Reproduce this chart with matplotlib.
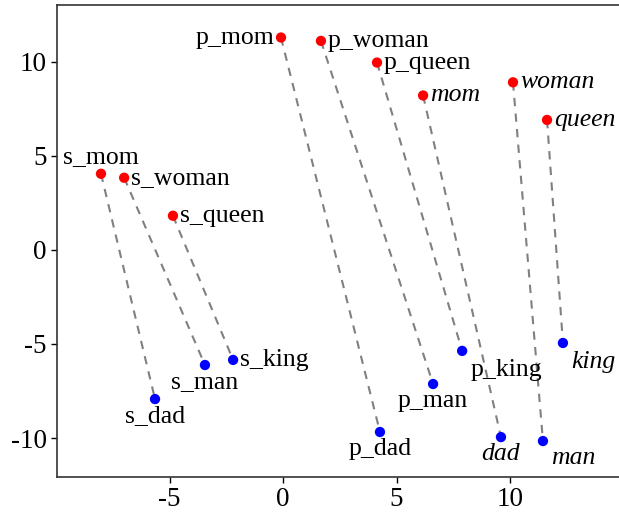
import matplotlib
matplotlib.use("Agg")
import matplotlib.pyplot as plt

# female-side words (red) and their male counterparts (blue)
female_words = ["p_mom", "p_woman", "p_queen", "mom", "woman", "queen", "s_mom", "s_woman", "s_queen"]
female_x = [-0.09, 1.67, 4.14, 6.17, 10.13, 11.63, -8.02, -7.0, -4.85]
female_y = [11.28, 11.1, 9.95, 8.2, 8.9, 6.9, 4.04, 3.83, 1.81]

male_words = ["p_dad", "p_man", "p_king", "dad", "man", "king", "s_dad", "s_man", "s_king"]
male_x = [4.27, 6.61, 7.89, 9.6, 11.45, 12.33, -5.64, -3.44, -2.2]
male_y = [-9.68, -7.13, -5.37, -9.95, -10.16, -4.95, -7.93, -6.12, -5.85]

plain_words = {"mom", "woman", "queen", "dad", "man", "king"}

# label placement (offset in points, ha, va)
label_pos = {
    "p_mom": ((-5, 0), "right", "center"),
    "p_woman": ((5, 0), "left", "center"),
    "p_queen": ((5, 0), "left", "center"),
    "mom": ((5, 0), "left", "center"),
    "woman": ((5, 0), "left", "center"),
    "queen": ((5, 0), "left", "center"),
    "s_mom": ((0, 4), "center", "bottom"),
    "s_woman": ((5, 0), "left", "center"),
    "s_queen": ((5, 0), "left", "center"),
    "p_dad": ((0, -4), "center", "top"),
    "p_man": ((0, -4), "center", "top"),
    "p_king": ((6, -6), "left", "top"),
    "dad": ((0, -4), "center", "top"),
    "man": ((6, -4), "left", "top"),
    "king": ((6, -6), "left", "top"),
    "s_dad": ((0, -4), "center", "top"),
    "s_man": ((0, -4), "center", "top"),
    "s_king": ((5, 0), "left", "center"),
}

plt.rcParams["font.family"] = ["Liberation Serif", "DejaVu Serif"]

fig = plt.figure(figsize=(6.19, 5.14), dpi=100)
ax = fig.add_axes([0.092, 0.072, 0.908, 0.918])

for fx, fy, mx, my in zip(female_x, female_y, male_x, male_y):
    ax.plot([fx, mx], [fy, my], linestyle=(0, (4, 3.5)), color="#808080", lw=1.5, zorder=1)

ax.scatter(female_x, female_y, s=55, color="#ff0000", zorder=3, edgecolors="none")
ax.scatter(male_x, male_y, s=55, color="#0000ff", zorder=3, edgecolors="none")

for words, xs, ys in ((female_words, female_x, female_y), (male_words, male_x, male_y)):
    for w, x, y in zip(words, xs, ys):
        off, ha, va = label_pos[w]
        ax.annotate(w, (x, y), xytext=off, textcoords="offset points", ha=ha, va=va,
                    fontsize=18.5, style="italic" if w in plain_words else "normal")

ax.set_xlim(-9.96, 14.8)
ax.set_ylim(-12.07, 13.0)
ax.set_xticks([-5, 0, 5, 10])
ax.set_yticks([-10, -5, 0, 5, 10])
ax.set_xticklabels(["-5", "0", "5", "10"])
ax.set_yticklabels(["-10", "-5", "0", "5", "10"])
ax.tick_params(labelsize=19.5, direction="out", length=4, width=1, colors="black")
ax.spines["right"].set_visible(False)
for s in ("left", "bottom", "top"):
    ax.spines[s].set_linewidth(1.2)
    ax.spines[s].set_color("#333333")

fig.savefig("out.png", dpi=100)
